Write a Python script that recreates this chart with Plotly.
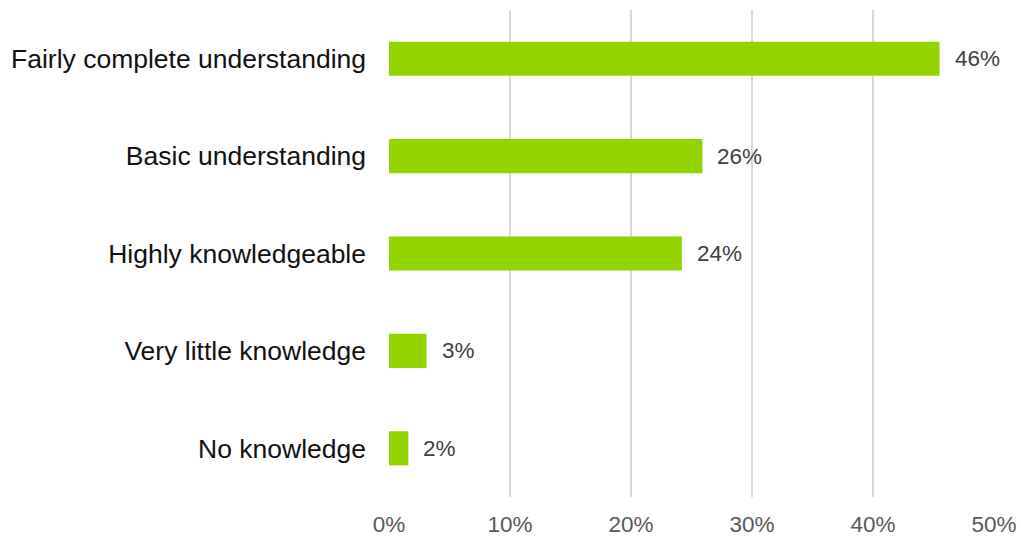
import plotly.graph_objects as go

categories = ["Fairly complete understanding", "Basic understanding", "Highly knowledgeable",
              "Very little knowledge", "No knowledge"]
values = [45.5, 25.9, 24.2, 3.1, 1.6]
labels = ["46%", "26%", "24%", "3%", "2%"]
tick_vals = [0, 10, 20, 30, 40, 50]
tick_text = ["0%", "10%", "20%", "30%", "40%", "50%"]

FONT = "Liberation Sans"

fig = go.Figure()
fig.add_trace(go.Bar(
    x=values, y=categories, orientation="h",
    marker=dict(color="#92D400", line=dict(width=0)),
    width=0.35, hoverinfo="skip",
))

for v, c, t in zip(values, categories, labels):
    fig.add_annotation(x=v, y=c, text=t, xanchor="left", yanchor="middle",
                       xshift=13, showarrow=False,
                       font=dict(family=FONT, size=22.5, color="#404040"))

fig.update_layout(
    width=1021, height=537,
    margin=dict(l=389, r=27, t=10, b=40, autoexpand=False),
    paper_bgcolor="white", plot_bgcolor="white",
    showlegend=False,
    font=dict(family=FONT),
    xaxis=dict(range=[0, 50], tickvals=tick_vals, ticktext=tick_text,
               showgrid=True, gridcolor="#d9d9d9", gridwidth=2,
               zeroline=False, showline=False, ticks="", automargin=False,
               ticklabelstandoff=11,
               tickfont=dict(family=FONT, size=22.5, color="#595959"), fixedrange=True),
    yaxis=dict(categoryorder="array", categoryarray=categories[::-1],
               showgrid=False, zeroline=False, showline=False, ticks="", automargin=False,
               ticklabelstandoff=22,
               tickfont=dict(family=FONT, size=26.5, color="#111111"), fixedrange=True),
)

fig.write_html("out.html")
